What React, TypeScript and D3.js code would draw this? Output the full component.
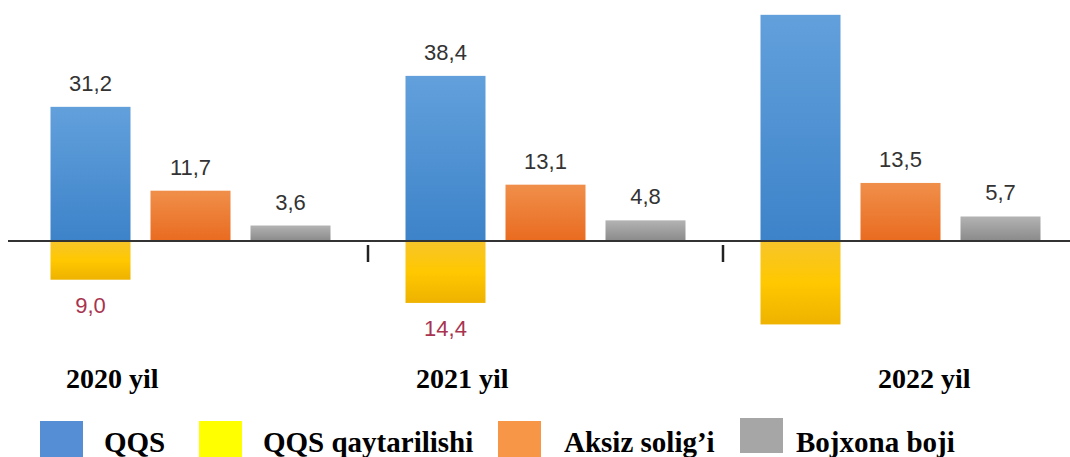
import React from "react";
import * as d3 from "d3";

const years = ["2020 yil", "2021 yil", "2022 yil"];
const qqs = [31.2, 38.4, 52.6];
const qqsQaytarilishi = [9.0, 14.4, 19.4];
const aksiz = [11.7, 13.1, 13.5];
const bojxona = [3.6, 4.8, 5.7];
const qqsLabels = ["31,2", "38,4", null];
const qaytLabels = ["9,0", "14,4", null];
const aksizLabels = ["11,7", "13,1", "13,5"];
const bojxonaLabels = ["3,6", "4,8", "5,7"];
const slots = ["QQS", "Aksiz", "Bojxona"];
const legendItems = ["QQS", "QQS qaytarilishi", "Aksiz solig’i", "Bojxona boji"];
const legendColors = ["#558ed5", "#ffff00", "#f79646", "#a6a6a6"];

const W = 1070;
const H = 457;

export default function App() {
  const x = d3.scaleBand<string>().domain(years).range([13, 1078]).padding(0);
  const inner = d3
    .scaleBand<string>()
    .domain(slots)
    .range([0, x.bandwidth()])
    .paddingInner(0.2)
    .paddingOuter(0.375);
  const y = d3.scaleLinear().domain([-20, 56]).range([241 + 20 * 4.3, 241 - 56 * 4.3]);
  const y0 = y(0);
  const bw = inner.bandwidth();

  const posBars = [
    { key: "QQS", vals: qqs, labels: qqsLabels, grad: "gBlue" },
    { key: "Aksiz", vals: aksiz, labels: aksizLabels, grad: "gOrange" },
    { key: "Bojxona", vals: bojxona, labels: bojxonaLabels, grad: "gGray" },
  ];

  const legendX = [40, 199, 498, 740];
  const legendTextX = [104, 263, 564, 796];

  return (
    <svg width={W} height={H} style={{ position: "absolute", left: 0, top: 0, background: "#fff" }}>
      <defs>
        <linearGradient id="gBlue" x1="0" y1="0" x2="0" y2="1">
          <stop offset="0" stopColor="#62a0dc" />
          <stop offset="1" stopColor="#3d83c9" />
        </linearGradient>
        <linearGradient id="gOrange" x1="0" y1="0" x2="0" y2="1">
          <stop offset="0" stopColor="#f08f4a" />
          <stop offset="1" stopColor="#e96b20" />
        </linearGradient>
        <linearGradient id="gGray" x1="0" y1="0" x2="0" y2="1">
          <stop offset="0" stopColor="#b3b3b3" />
          <stop offset="1" stopColor="#8a8a8a" />
        </linearGradient>
        <linearGradient id="gYellow" x1="0" y1="0" x2="0" y2="1">
          <stop offset="0" stopColor="#f7c52a" />
          <stop offset="0.5" stopColor="#ffc800" />
          <stop offset="1" stopColor="#eeb200" />
        </linearGradient>
      </defs>

      {years.map((yr, i) => {
        const bx = x(yr)!;
        return (
          <g key={yr}>
            {posBars.map((s) => {
              const v = s.vals[i];
              const left = bx + inner(s.key)!;
              return (
                <g key={s.key}>
                  <rect x={left} y={y(v)} width={bw} height={y0 - y(v)} fill={`url(#${s.grad})`} />
                  {s.labels[i] && (
                    <text
                      x={left + bw / 2}
                      y={y(v) - 16}
                      textAnchor="middle"
                      fontFamily="'Liberation Sans', Arial, sans-serif"
                      fontSize={22}
                      fill="#333"
                    >
                      {s.labels[i]}
                    </text>
                  )}
                </g>
              );
            })}
            <rect
              x={bx + inner("QQS")!}
              y={y0}
              width={bw}
              height={y(-qqsQaytarilishi[i]) - y0}
              fill="url(#gYellow)"
            />
            {qaytLabels[i] && (
              <text
                x={bx + inner("QQS")! + bw / 2}
                y={y(-qqsQaytarilishi[i]) + 33}
                textAnchor="middle"
                fontFamily="'Liberation Sans', Arial, sans-serif"
                fontSize={22}
                fill="#a8344f"
              >
                {qaytLabels[i]}
              </text>
            )}
          </g>
        );
      })}

      <line x1={8} x2={W} y1={y0} y2={y0} stroke="#333" strokeWidth={2} />
      {years.slice(1).map((yr) => (
        <line key={yr} x1={x(yr)!} x2={x(yr)!} y1={y0 + 4} y2={y0 + 21} stroke="#222" strokeWidth={2.5} />
      ))}

      {[66, 416, 878].map((lx, i) => (
        <text
          key={years[i]}
          x={lx}
          y={388}
          fontFamily="'Liberation Serif', 'Times New Roman', serif"
          fontWeight="bold"
          fontSize={28}
          fill="#000"
        >
          {years[i]}
        </text>
      ))}

      {legendItems.map((name, i) => (
        <g key={name}>
          <rect
            x={legendX[i]}
            y={i === 3 ? 418 : 421}
            width={43}
            height={i === 3 ? 35 : 40}
            fill={legendColors[i]}
          />
          <text
            x={legendTextX[i]}
            y={452}
            fontFamily="'Liberation Serif', 'Times New Roman', serif"
            fontWeight="bold"
            fontSize={29}
            fill="#000"
          >
            {name}
          </text>
        </g>
      ))}
    </svg>
  );
}
